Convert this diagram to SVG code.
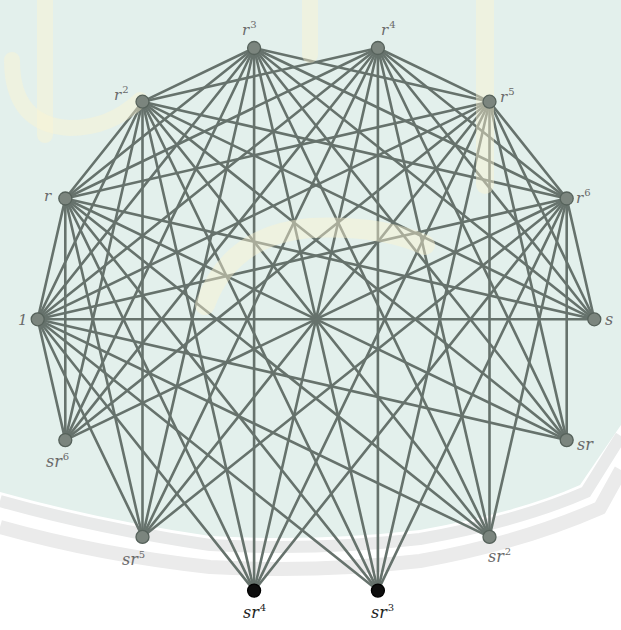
<svg xmlns="http://www.w3.org/2000/svg" width="621" height="630" viewBox="0 0 621 630">
<style>
.e{stroke:#66726c;stroke-width:2.6;stroke-linecap:round}
.n{fill:#7b857e;stroke:#56625b;stroke-width:1.3}
.nb{fill:#0d0d0d;stroke:#000;stroke-width:1.3}
.l{font-family:"DejaVu Serif","Liberation Serif",serif;font-style:italic;font-size:15px;fill:#6a6a6a}
.sl{font-size:16px}
.sup{font-style:normal;font-size:10px}
.dk{fill:#222}
.wm{fill:none;stroke:#fbf5d2;stroke-linecap:round;opacity:.45}
</style>
<g id="background">
<rect width="621" height="630" fill="#ffffff"/>
<path d="M0,0H621V425L580,485Q520,512 420,530Q316,542 210,536Q100,520 0,492Z" fill="#e3f0ec"/>
<path d="M0,501Q100,529 210,545Q316,551 420,539Q520,521 586,492L621,436" fill="none" stroke="#e9eaea" stroke-width="12"/>
<path d="M0,527Q100,555 210,567Q316,573 420,561Q520,543 600,508L621,470" fill="none" stroke="#ebebeb" stroke-width="14"/>
</g>
<g id="edges">
<line class="e" x1="37.7" y1="319.3" x2="65.3" y2="198.5"/>
<line class="e" x1="37.7" y1="319.3" x2="142.5" y2="101.7"/>
<line class="e" x1="37.7" y1="319.3" x2="254.1" y2="48"/>
<line class="e" x1="37.7" y1="319.3" x2="377.9" y2="48"/>
<line class="e" x1="37.7" y1="319.3" x2="489.5" y2="101.7"/>
<line class="e" x1="37.7" y1="319.3" x2="566.7" y2="198.5"/>
<line class="e" x1="37.7" y1="319.3" x2="594.3" y2="319.3"/>
<line class="e" x1="37.7" y1="319.3" x2="566.7" y2="440.1"/>
<line class="e" x1="37.7" y1="319.3" x2="489.5" y2="536.9"/>
<line class="e" x1="37.7" y1="319.3" x2="377.9" y2="590.6"/>
<line class="e" x1="37.7" y1="319.3" x2="254.1" y2="590.6"/>
<line class="e" x1="37.7" y1="319.3" x2="142.5" y2="536.9"/>
<line class="e" x1="37.7" y1="319.3" x2="65.3" y2="440.1"/>
<line class="e" x1="65.3" y1="198.5" x2="142.5" y2="101.7"/>
<line class="e" x1="65.3" y1="198.5" x2="254.1" y2="48"/>
<line class="e" x1="65.3" y1="198.5" x2="377.9" y2="48"/>
<line class="e" x1="65.3" y1="198.5" x2="489.5" y2="101.7"/>
<line class="e" x1="142.5" y1="101.7" x2="254.1" y2="48"/>
<line class="e" x1="142.5" y1="101.7" x2="377.9" y2="48"/>
<line class="e" x1="142.5" y1="101.7" x2="566.7" y2="198.5"/>
<line class="e" x1="254.1" y1="48" x2="489.5" y2="101.7"/>
<line class="e" x1="254.1" y1="48" x2="566.7" y2="198.5"/>
<line class="e" x1="377.9" y1="48" x2="489.5" y2="101.7"/>
<line class="e" x1="377.9" y1="48" x2="566.7" y2="198.5"/>
<line class="e" x1="489.5" y1="101.7" x2="566.7" y2="198.5"/>
<line class="e" x1="65.3" y1="198.5" x2="594.3" y2="319.3"/>
<line class="e" x1="65.3" y1="198.5" x2="566.7" y2="440.1"/>
<line class="e" x1="65.3" y1="198.5" x2="489.5" y2="536.9"/>
<line class="e" x1="65.3" y1="198.5" x2="377.9" y2="590.6"/>
<line class="e" x1="65.3" y1="198.5" x2="254.1" y2="590.6"/>
<line class="e" x1="65.3" y1="198.5" x2="142.5" y2="536.9"/>
<line class="e" x1="65.3" y1="198.5" x2="65.3" y2="440.1"/>
<line class="e" x1="142.5" y1="101.7" x2="594.3" y2="319.3"/>
<line class="e" x1="142.5" y1="101.7" x2="566.7" y2="440.1"/>
<line class="e" x1="142.5" y1="101.7" x2="489.5" y2="536.9"/>
<line class="e" x1="142.5" y1="101.7" x2="377.9" y2="590.6"/>
<line class="e" x1="142.5" y1="101.7" x2="254.1" y2="590.6"/>
<line class="e" x1="142.5" y1="101.7" x2="142.5" y2="536.9"/>
<line class="e" x1="142.5" y1="101.7" x2="65.3" y2="440.1"/>
<line class="e" x1="254.1" y1="48" x2="594.3" y2="319.3"/>
<line class="e" x1="254.1" y1="48" x2="566.7" y2="440.1"/>
<line class="e" x1="254.1" y1="48" x2="489.5" y2="536.9"/>
<line class="e" x1="254.1" y1="48" x2="377.9" y2="590.6"/>
<line class="e" x1="254.1" y1="48" x2="254.1" y2="590.6"/>
<line class="e" x1="254.1" y1="48" x2="142.5" y2="536.9"/>
<line class="e" x1="254.1" y1="48" x2="65.3" y2="440.1"/>
<line class="e" x1="377.9" y1="48" x2="594.3" y2="319.3"/>
<line class="e" x1="377.9" y1="48" x2="566.7" y2="440.1"/>
<line class="e" x1="377.9" y1="48" x2="489.5" y2="536.9"/>
<line class="e" x1="377.9" y1="48" x2="377.9" y2="590.6"/>
<line class="e" x1="377.9" y1="48" x2="254.1" y2="590.6"/>
<line class="e" x1="377.9" y1="48" x2="142.5" y2="536.9"/>
<line class="e" x1="377.9" y1="48" x2="65.3" y2="440.1"/>
<line class="e" x1="489.5" y1="101.7" x2="594.3" y2="319.3"/>
<line class="e" x1="489.5" y1="101.7" x2="566.7" y2="440.1"/>
<line class="e" x1="489.5" y1="101.7" x2="489.5" y2="536.9"/>
<line class="e" x1="489.5" y1="101.7" x2="377.9" y2="590.6"/>
<line class="e" x1="489.5" y1="101.7" x2="254.1" y2="590.6"/>
<line class="e" x1="489.5" y1="101.7" x2="142.5" y2="536.9"/>
<line class="e" x1="489.5" y1="101.7" x2="65.3" y2="440.1"/>
<line class="e" x1="566.7" y1="198.5" x2="594.3" y2="319.3"/>
<line class="e" x1="566.7" y1="198.5" x2="566.7" y2="440.1"/>
<line class="e" x1="566.7" y1="198.5" x2="489.5" y2="536.9"/>
<line class="e" x1="566.7" y1="198.5" x2="377.9" y2="590.6"/>
<line class="e" x1="566.7" y1="198.5" x2="254.1" y2="590.6"/>
<line class="e" x1="566.7" y1="198.5" x2="142.5" y2="536.9"/>
<line class="e" x1="566.7" y1="198.5" x2="65.3" y2="440.1"/>
</g>
<g id="watermark">
<path class="wm" d="M485,0V185" stroke-width="18"/>
<path class="wm" d="M45,0V135" stroke-width="16"/>
<path class="wm" d="M12,60Q12,125 70,128Q110,128 140,100" stroke-width="16"/>
<path class="wm" d="M205,305Q230,235 310,228Q380,225 425,245" stroke-width="20"/>
<path class="wm" d="M310,0V55" stroke-width="16"/>
</g>
<g id="n-1"><circle class="n" cx="37.7" cy="319.3" r="6.5"/><text class="l" x="18" y="325">1</text></g>
<g id="n-r"><circle class="n" cx="65.3" cy="198.5" r="6.5"/><text class="l" x="44" y="201">r</text></g>
<g id="n-r2"><circle class="n" cx="142.5" cy="101.7" r="6.5"/><text class="l" x="114" y="100">r<tspan class="sup" dx="1" dy="-7">2</tspan></text></g>
<g id="n-r3"><circle class="n" cx="254.1" cy="48" r="6.5"/><text class="l" x="242" y="35">r<tspan class="sup" dx="1" dy="-7">3</tspan></text></g>
<g id="n-r4"><circle class="n" cx="377.9" cy="48" r="6.5"/><text class="l" x="381" y="35">r<tspan class="sup" dx="1" dy="-7">4</tspan></text></g>
<g id="n-r5"><circle class="n" cx="489.5" cy="101.7" r="6.5"/><text class="l" x="500" y="102">r<tspan class="sup" dx="1" dy="-7">5</tspan></text></g>
<g id="n-r6"><circle class="n" cx="566.7" cy="198.5" r="6.5"/><text class="l" x="576" y="203">r<tspan class="sup" dx="1" dy="-7">6</tspan></text></g>
<g id="n-s"><circle class="n" cx="594.3" cy="319.3" r="6.5"/><text class="l sl" x="605" y="325">s</text></g>
<g id="n-sr"><circle class="n" cx="566.7" cy="440.1" r="6.5"/><text class="l sl" x="577" y="450">sr</text></g>
<g id="n-sr2"><circle class="n" cx="489.5" cy="536.9" r="6.5"/><text class="l sl" x="488" y="562">sr<tspan class="sup" dx="1" dy="-7">2</tspan></text></g>
<g id="n-sr3"><circle class="nb" cx="377.9" cy="590.6" r="6.5"/><text class="l sl dk" x="371" y="618">sr<tspan class="sup" dx="1" dy="-7">3</tspan></text></g>
<g id="n-sr4"><circle class="nb" cx="254.1" cy="590.6" r="6.5"/><text class="l sl dk" x="243" y="618">sr<tspan class="sup" dx="1" dy="-7">4</tspan></text></g>
<g id="n-sr5"><circle class="n" cx="142.5" cy="536.9" r="6.5"/><text class="l sl" x="122" y="565">sr<tspan class="sup" dx="1" dy="-7">5</tspan></text></g>
<g id="n-sr6"><circle class="n" cx="65.3" cy="440.1" r="6.5"/><text class="l sl" x="46" y="467">sr<tspan class="sup" dx="1" dy="-7">6</tspan></text></g>
</svg>
